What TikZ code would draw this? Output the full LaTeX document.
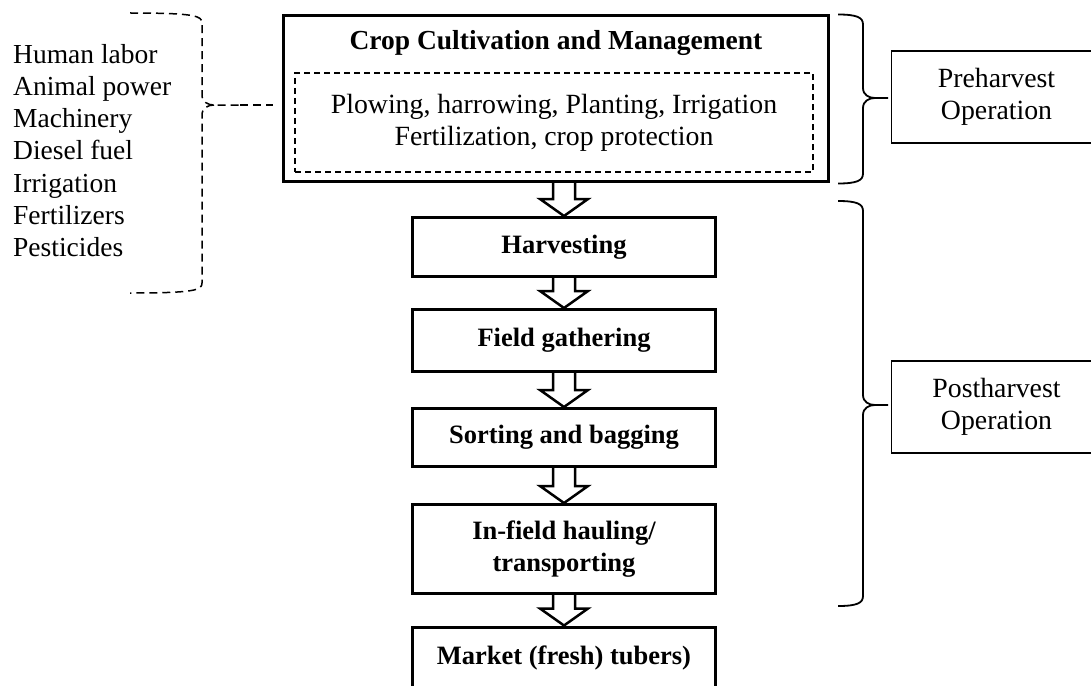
\documentclass[tikz,border=0pt]{standalone}
\usepackage{fontspec}
\setmainfont{Liberation Serif}
\usepackage{tikz}
\usetikzlibrary{calc}
\usetikzlibrary{positioning}

% curly brace opening to the right: end x, spine x, tip x, top y, tip y, bottom y
\newcommand{\bracepath}[6]{(#1,#4) .. controls (#2-6,#4) and (#2,#4+3) .. (#2,#4+10)
    -- (#2,#5-10) .. controls (#2,#5-3) and (#2+6,#5) .. (#2+12,#5) -- (#3,#5)
    (#2+12,#5) .. controls (#2+6,#5) and (#2,#5+3) .. (#2,#5+10)
    -- (#2,#6-10) .. controls (#2,#6-3) and (#2-6,#6) .. (#1,#6)}

% hollow block arrow from one stage down to the next
\newcommand{\flowarrow}[2]{\draw[flowarrow] ($(#1.south -| #2.north)+(-11,0)$)
    -- ($(#2.north)+(-11,-17)$) -- ($(#2.north)+(-24,-17)$) -- (#2.north)
    -- ($(#2.north)+(24,-17)$) -- ($(#2.north)+(11,-17)$)
    -- ($(#1.south -| #2.north)+(11,0)$);}

\tikzset{
    stage/.style={draw, line width=3pt, minimum width=303pt, inner sep=0pt,
        font=\fontsize{26.5}{32}\selectfont\bfseries},
    phase/.style={draw, line width=1.8pt, minimum width=210pt, minimum height=92pt,
        align=center, font=\fontsize{27.8}{31.5}\selectfont},
    flowarrow/.style={line width=2.5pt},
    bracestyle/.style={line width=1.8pt},
    dashbrace/.style={line width=1.5pt, dash pattern=on 8pt off 5pt},
}

\begin{document}
\begin{tikzpicture}[x=1pt, y=-1pt]

    \useasboundingbox (0,0) rectangle (1091,685);
    \clip (0,0) rectangle (1091,685);

    % preharvest block
    \node [draw, line width=3pt, minimum width=545pt, minimum height=166pt]
        (crop) at (556,98.5) {};
    \node [anchor=base, font=\fontsize{27.5}{32}\selectfont\bfseries]
        (croptitle) at (556,49) {Crop Cultivation and Management};
    \node [draw, line width=1.5pt, dash pattern=on 6pt off 4pt, minimum width=518pt,
        minimum height=99pt, align=center, font=\fontsize{27.8}{32}\selectfont]
        (cropops) at (554,122.5)
        {Plowing, harrowing, Planting, Irrigation\\Fertilization, crop protection};

    % postharvest stages
    \node [stage, minimum height=59pt] (harvest) at (564,247) {Harvesting};
    \node [stage, minimum height=62pt] (gather) at (564,340.5) {Field gathering};
    \node [stage, minimum height=58pt] (sort) at (564,437.5) {Sorting and bagging};
    \node [stage, minimum height=89pt, align=center] (haul) at (564,549)
        {In-field hauling/\\transporting};
    \node [stage, anchor=north, text height=37.5pt, text depth=30pt]
        (market) at (564,625.5) {Market (fresh) tubers)};

    \flowarrow{crop}{harvest}
    \flowarrow{harvest}{gather}
    \flowarrow{gather}{sort}
    \flowarrow{sort}{haul}
    \flowarrow{haul}{market}

    % inputs
    \node [anchor=west, inner sep=0pt, align=left,
        font=\fontsize{27.5}{32.3}\selectfont] (inputs) at (13,150.5)
        {Human labor\\Animal power\\Machinery\\Diesel fuel\\Irrigation\\Fertilizers\\Pesticides};
    \draw [dashbrace] \bracepath{130}{202}{240}{13}{105}{293};
    \coordinate (inputtip) at (240,105);
    \draw [dashbrace, shorten >=9pt] (inputtip) -- (inputtip -| crop.west);

    % operation labels
    \node [phase] (pre) at (996.5,97) {Preharvest\\Operation};
    \node [phase] (post) at (996.5,407) {Postharvest\\Operation};
    \draw [bracestyle] \bracepath{838}{863}{888}{14.5}{98}{183.5};
    \draw [bracestyle] \bracepath{838}{863}{888}{201}{405}{606};

\end{tikzpicture}
\end{document}
